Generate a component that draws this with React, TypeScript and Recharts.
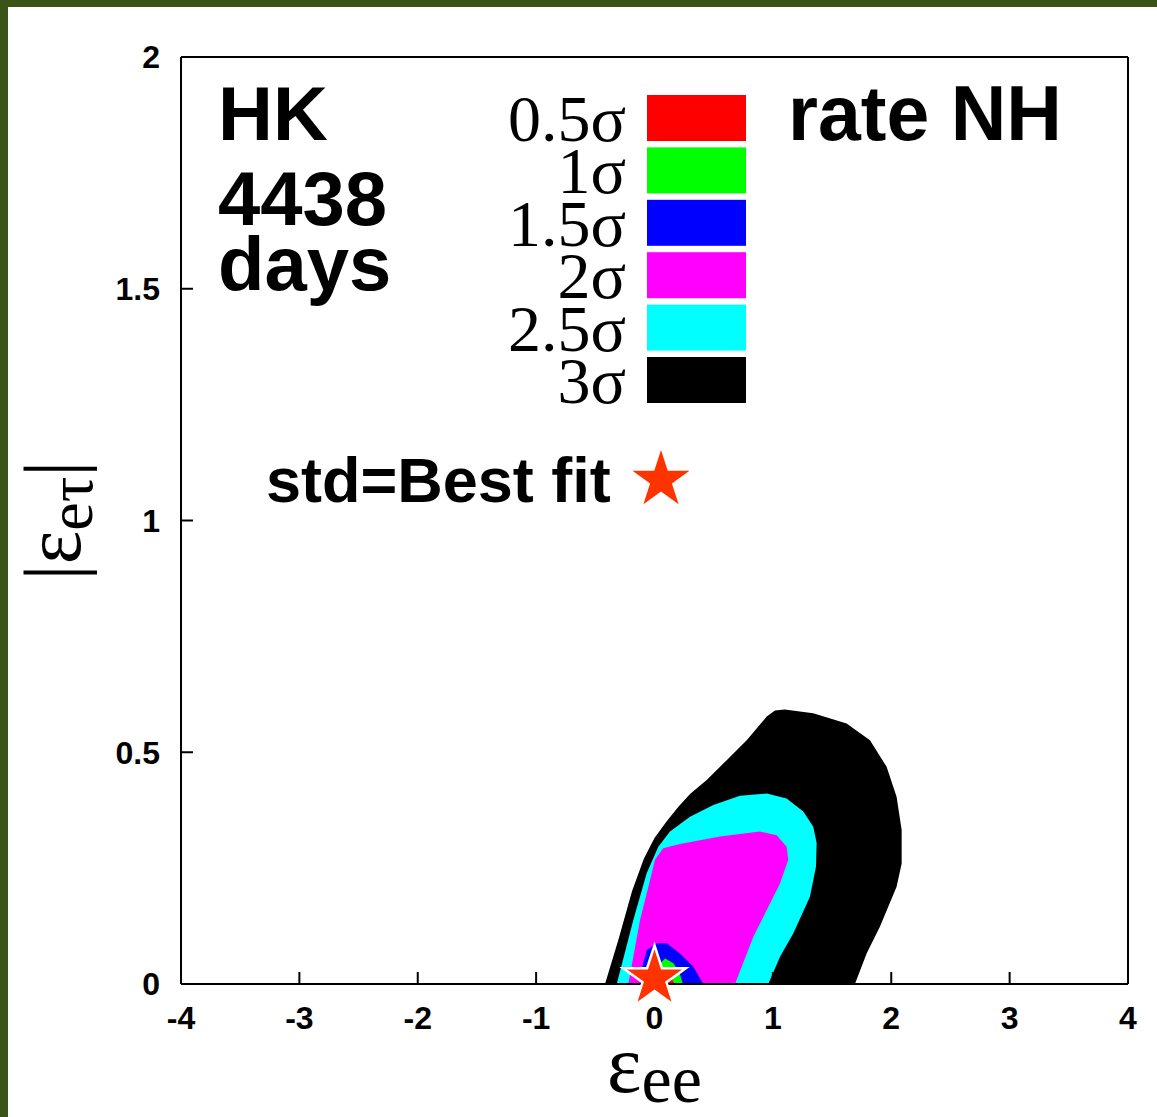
import React from 'react';
import { ComposedChart, Area, Scatter, XAxis, YAxis } from 'recharts';

// axis ticks
const xTicks = [-4, -3, -2, -1, 0, 1, 2, 3, 4];
const yTicks = [0, 0.5, 1, 1.5, 2];

// contour outlines, walked from the left foot round to the right foot
const black3x = [-0.418, -0.3, -0.19, -0.09, 0.0, 0.1, 0.2, 0.3, 0.441, 0.61, 0.779, 0.948, 1.018, 1.1, 1.341, 1.623, 1.82, 1.96, 2.045, 2.088, 2.088, 2.045, 1.905, 1.792, 1.693];
const black3y = [0, 0.1, 0.2, 0.27, 0.315, 0.35, 0.382, 0.41, 0.44, 0.483, 0.526, 0.577, 0.59, 0.592, 0.584, 0.562, 0.526, 0.469, 0.404, 0.332, 0.26, 0.21, 0.124, 0.066, 0];

const cyan25x = [-0.319, -0.179, -0.066, 0.032, 0.131, 0.3, 0.497, 0.722, 0.948, 1.116, 1.257, 1.341, 1.37, 1.364, 1.313, 1.172, 1.06, 0.961];
const cyan25y = [0, 0.138, 0.239, 0.296, 0.329, 0.361, 0.386, 0.406, 0.411, 0.4, 0.372, 0.339, 0.304, 0.253, 0.188, 0.109, 0.059, 0];

const magenta2x = [-0.221, -0.122, -0.038, 0.004, 0.074, 0.215, 0.553, 0.891, 1.032, 1.116, 1.13, 1.06, 0.835, 0.68];
const magenta2y = [0, 0.138, 0.224, 0.268, 0.293, 0.302, 0.318, 0.329, 0.321, 0.296, 0.268, 0.217, 0.102, 0];

const blue15x = [-0.12, -0.1, -0.066, 0.018, 0.103, 0.215, 0.328, 0.412];
const blue15y = [0, 0.04, 0.073, 0.088, 0.088, 0.066, 0.037, 0];

const green1x = [0.0, 0.03, 0.09, 0.16, 0.21, 0.24];
const green1y = [0, 0.04, 0.055, 0.045, 0.025, 0];

const red05x = [0.02, 0.05, 0.12, 0.17];
const red05y = [0, 0.02, 0.025, 0];

const bestFitX = [0];
const bestFitY = [0.012];

const legendLabels = ['0.5σ', '1σ', '1.5σ', '2σ', '2.5σ', '3σ'];
const legendColors = ['#ff0000', '#00ff00', '#0000ff', '#ff00ff', '#00ffff', '#000000'];

const toPoints = (xs: number[], ys: number[]) => xs.map((x, i) => ({ x, y: ys[i] }));

const regions = [
  { name: '3σ', data: toPoints(black3x, black3y), color: '#000000' },
  { name: '2.5σ', data: toPoints(cyan25x, cyan25y), color: '#00ffff' },
  { name: '2σ', data: toPoints(magenta2x, magenta2y), color: '#ff00ff' },
  { name: '1.5σ', data: toPoints(blue15x, blue15y), color: '#0000ff' },
  { name: '1σ', data: toPoints(green1x, green1y), color: '#00ff00' },
  { name: '0.5σ', data: toPoints(red05x, red05y), color: '#ff0000' },
];

const bestFit = toPoints(bestFitX, bestFitY);

const starPath = (cx: number, cy: number, R: number) => {
  const r = R * 0.382;
  let d = '';
  for (let i = 0; i < 10; i++) {
    const rad = i % 2 === 0 ? R : r;
    const a = -Math.PI / 2 + (i * Math.PI) / 5;
    d += `${i === 0 ? 'M' : 'L'}${cx + rad * Math.cos(a)},${cy + rad * Math.sin(a)}`;
  }
  return d + 'Z';
};

const StarShape = (props: any) => {
  const { cx, cy } = props;
  return <path d={starPath(cx, cy, 33)} fill="#ff3300" stroke="#ffffff" strokeWidth={2.5} />;
};

const tickStyle = { fontSize: 32, fontWeight: 'bold', fill: '#000', fontFamily: 'Liberation Sans, Arial, sans-serif' };
const serif = 'Liberation Serif, Times New Roman, serif';
const sans = 'Liberation Sans, Arial, sans-serif';

const XTitle = ({ viewBox }: any) => {
  const cx = viewBox.x + viewBox.width / 2;
  return (
    <text x={cx} y={1092} textAnchor="middle" fontFamily={serif} fontSize={82} fill="#000">
      ε<tspan dy={10} fontSize={68}>ee</tspan>
    </text>
  );
};

const YTitle = ({ viewBox }: any) => {
  const x = 80;
  const y = viewBox.y + viewBox.height / 2;
  return (
    <text x={x} y={y} textAnchor="middle" transform={`rotate(-90 ${x} ${y})`} fontFamily={serif} fontSize={80} fill="#000">
      |ε<tspan dy={12} fontSize={64}>eτ</tspan><tspan dy={-12}>|</tspan>
    </text>
  );
};

export default function App() {
  return (
    <div style={{ position: 'absolute', left: 0, top: 0, width: 1157, height: 1117, background: '#fff', overflow: 'hidden' }}>
      <div style={{ position: 'absolute', left: 0, top: 0, width: 1157, height: 7, background: '#3a5417' }} />
      <div style={{ position: 'absolute', left: 0, top: 0, width: 8, height: 1117, background: '#3a5417' }} />
      <div style={{ position: 'absolute', left: 0, top: 0 }}>
        <ComposedChart width={1157} height={1117} margin={{ top: 47, right: 19, bottom: 73, left: 81 }}>
          <XAxis
            type="number"
            dataKey="x"
            domain={[-4, 4]}
            ticks={xTicks}
            tickSize={-12}
            tickMargin={34}
            tick={tickStyle}
            height={60}
            axisLine={{ stroke: '#000', strokeWidth: 2 }}
            tickLine={{ stroke: '#000', strokeWidth: 2 }}
            label={<XTitle />}
          />
          <XAxis
            xAxisId="top"
            orientation="top"
            type="number"
            domain={[-4, 4]}
            ticks={xTicks}
            tickSize={-12}
            height={10}
            tickFormatter={() => ''}
            axisLine={{ stroke: '#000', strokeWidth: 2 }}
            tickLine={{ stroke: '#000', strokeWidth: 2 }}
          />
          <YAxis
            type="number"
            dataKey="y"
            domain={[0, 2]}
            ticks={yTicks}
            tickSize={-12}
            tickMargin={33}
            tick={tickStyle}
            width={100}
            axisLine={{ stroke: '#000', strokeWidth: 2 }}
            tickLine={{ stroke: '#000', strokeWidth: 2 }}
            label={<YTitle />}
          />
          <YAxis
            yAxisId="right"
            orientation="right"
            type="number"
            domain={[0, 2]}
            ticks={yTicks}
            tickSize={-12}
            width={10}
            tickFormatter={() => ''}
            axisLine={{ stroke: '#000', strokeWidth: 2 }}
            tickLine={{ stroke: '#000', strokeWidth: 2 }}
          />
          {regions.map(r => (
            <Area
              key={r.name}
              name={r.name}
              data={r.data}
              dataKey="y"
              type="linear"
              fill={r.color}
              fillOpacity={1}
              stroke="none"
              dot={false}
              activeDot={false}
              isAnimationActive={false}
            />
          ))}
          <Scatter name="Best fit" data={bestFit} dataKey="y" shape={<StarShape />} isAnimationActive={false} />
        </ComposedChart>
      </div>
      {/* in-plot annotations: experiment label, sigma key, best fit note */}
      <svg width={1157} height={1117} style={{ position: 'absolute', left: 0, top: 0, pointerEvents: 'none' }}>
        <g fontFamily={sans} fontWeight="bold" fill="#000">
          <text x={218} y={140} fontSize={76}>HK</text>
          <text x={218} y={225} fontSize={76}>4438</text>
          <text x={218} y={290} fontSize={76}>days</text>
          <text x={788} y={140} fontSize={77}>rate NH</text>
          <text x={266} y={502} fontSize={63}>std=Best fit</text>
        </g>
        <path d={starPath(661, 480, 30)} fill="#ff3300" />
        {legendLabels.map((lab, i) => {
          const bottom = 141 + i * 52.4;
          return (
            <g key={lab}>
              <text x={626} y={bottom} textAnchor="end" fontFamily={serif} fontSize={66} fill="#000">{lab}</text>
              <rect x={647} y={bottom - 46} width={99} height={46} fill={legendColors[i]} />
            </g>
          );
        })}
      </svg>
    </div>
  );
}
